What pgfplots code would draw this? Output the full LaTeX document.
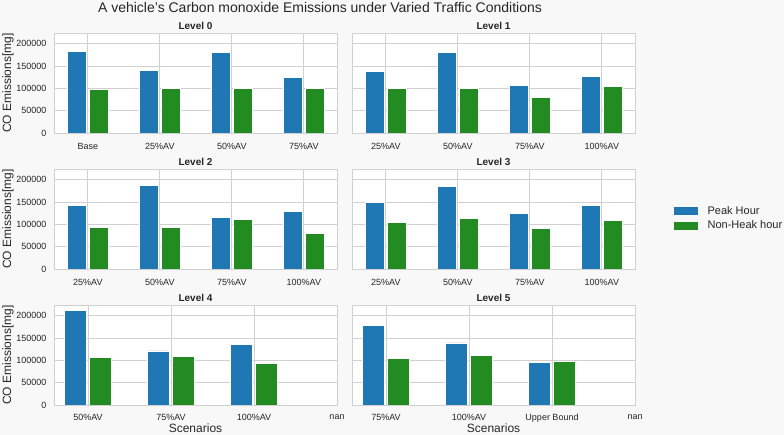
\documentclass[border=0pt]{standalone}
\usepackage{fontspec}
\setmainfont{Liberation Sans}
\usepackage{pgfplots}
\pgfplotsset{compat=1.18}

\definecolor{figbg}{RGB}{248,248,248}
\definecolor{gridc}{RGB}{208,208,208}
\definecolor{labc}{RGB}{38,38,38}
\definecolor{peak}{HTML}{1F77B4}
\definecolor{offpeak}{HTML}{228B22}

\pgfplotsset{
  panel/.style={
    scale only axis, width=283pt, height=100pt,
    anchor=south west,
    axis background/.style={fill=white},
    ymin=0, ymax=224000,
    ytick={0,50000,100000,150000,200000},
    scaled y ticks=false,
    /pgf/number format/assume math mode=true,
    yticklabel style={/pgf/number format/fixed,/pgf/number format/1000 sep={},xshift=-4pt},
    xticklabel style={yshift=-7pt},
    xtick={0,1,2,3},
    xmajorgrids, ymajorgrids,
    grid style={gridc, line width=0.9pt},
    axis line style={gridc, line width=0.9pt},
    major tick length=0pt,
    tick label style={font=\fontsize{9}{10}\selectfont, text=labc},
    title style={font=\bfseries\fontsize{10}{12}\selectfont, text=labc, yshift=-6pt},
    ylabel style={at={(axis description cs:-0.1625,0.5)}, anchor=center,
      font=\fontsize{12}{14}\selectfont, text=labc},
    xlabel style={at={(axis description cs:0.5,0)}, anchor=center, yshift=-23pt,
      inner sep=1pt, font=\fontsize{12}{14}\selectfont, text=labc},
    ybar, bar width=0.26,
  },
  top/.style={xmin=-0.47, xmax=3.46},
  low/.style={xmin=-0.41, xmax=3.0, xticklabel style={inner sep=1pt, yshift=-1pt}},
  pk/.style={fill=peak, draw=white, line width=0.7pt, bar shift=-0.15},
  np/.style={fill=offpeak, draw=white, line width=0.7pt, bar shift=0.15},
  patch/.style={legend image code/.code={\fill[##1,draw=none] (0pt,-4pt) rectangle (24pt,4pt); \path (31pt,0pt);}},
}

\begin{document}
\begin{tikzpicture}[x=1pt,y=1pt]
\fill[figbg] (0,0) rectangle (784,435);
\useasboundingbox (0,0) rectangle (784,435);

\node[font=\fontsize{14}{16}\selectfont, text=labc] at (320,427) {A vehicle's Carbon monoxide Emissions under Varied Traffic Conditions};

% Level 0
\begin{axis}[panel, top, at={(54pt,302pt)}, title={Level 0},
  ylabel={CO Emissions[mg]},
  xticklabels={Base,25\%AV,50\%AV,75\%AV}]
\addplot[pk] coordinates {(0,183500) (1,139300) (2,180500) (3,124300)};
\addplot[np] coordinates {(0,97400) (1,100400) (2,98900) (3,100400)};
\end{axis}

% Level 1
\begin{axis}[panel, top, at={(352pt,302pt)}, title={Level 1},
  yticklabels={},
  xticklabels={25\%AV,50\%AV,75\%AV,100\%AV}]
\addplot[pk] coordinates {(0,138600) (1,180500) (2,105600) (3,126600)};
\addplot[np] coordinates {(0,100400) (1,99600) (2,80100) (3,103400)};
\end{axis}

% Level 2
\begin{axis}[panel, top, at={(54pt,166pt)}, title={Level 2},
  ylabel={CO Emissions[mg]},
  xticklabels={25\%AV,50\%AV,75\%AV,100\%AV}]
\addplot[pk] coordinates {(0,142300) (1,187300) (2,116100) (3,129600)};
\addplot[np] coordinates {(0,92900) (1,93600) (2,110100) (3,80100)};
\end{axis}

% Level 3 (carries the legend)
\begin{axis}[panel, top, at={(352pt,166pt)}, title={Level 3},
  yticklabels={},
  xticklabels={25\%AV,50\%AV,75\%AV,100\%AV},
  legend style={at={(1.138,0.505)}, anchor=west, draw=none, fill=none,
    inner sep=0pt, row sep=1pt,
    font=\fontsize{11}{13}\selectfont, text=labc},
  legend cell align=left]
\addplot[pk, patch] coordinates {(0,148300) (1,184300) (2,125100) (3,141600)};
\addplot[np, patch] coordinates {(0,103400) (1,112400) (2,91400) (3,109400)};
\legend{Peak Hour, Non-Heak hour}
\end{axis}

% Level 4
\begin{axis}[panel, low, at={(54pt,30pt)}, title={Level 4},
  ylabel={CO Emissions[mg]}, xlabel={Scenarios},
  xticklabels={50\%AV,75\%AV,100\%AV,nan}]
\addplot[pk] coordinates {(0,212600) (1,121100) (2,136000)};
\addplot[np] coordinates {(0,106300) (1,109300) (2,92900)};
\end{axis}

% Level 5
\begin{axis}[panel, low, at={(352pt,30pt)}, title={Level 5},
  yticklabels={}, xlabel={Scenarios},
  xticklabels={75\%AV,100\%AV,Upper Bound,nan}]
\addplot[pk] coordinates {(0,177600) (1,139000) (2,95900)};
\addplot[np] coordinates {(0,104000) (1,111500) (2,97300)};
\end{axis}
\end{tikzpicture}
\end{document}
